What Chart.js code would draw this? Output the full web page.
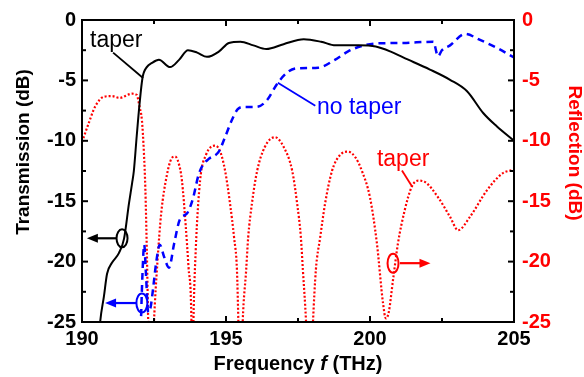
<!DOCTYPE html>
<html><head><meta charset="utf-8">
<script src="https://cdn.jsdelivr.net/npm/chart.js@4/dist/chart.umd.min.js"></script>
<style>html,body{margin:0;padding:0;background:#fff}canvas{display:block}</style>
</head><body>
<canvas id="c" width="584" height="377"></canvas>
<script>
const FONT = '"Liberation Sans", Arial, Helvetica, sans-serif';

// x axis (THz) and y axes (dB) tick labels
const xTickLabels = [190, 195, 200, 205];
const yTickLabels = [0, -5, -10, -15, -20, -25];

// Transmission with taper (black solid, left axis)
const taperTxFreq = [190.6,190.63,190.76,190.87,191.04,191.28,191.46,191.63,191.74,191.8,191.9,192.0,192.1,192.25,192.43,192.67,193.06,193.37,193.68,194.0,194.34,194.76,195.1,195.5,195.95,196.4,197.0,197.7,198.3,198.8,199.6,200.2,200.7,201.15,202.08,202.78,203.37,203.93,204.4,205.0];
const taperTxDb   = [-26,-25,-22.9,-21,-20.1,-19.3,-18.1,-15.2,-13.5,-12.5,-9.6,-6.9,-4.8,-3.9,-3.55,-3.3,-3.9,-3.3,-2.5,-2.7,-3.05,-2.6,-1.9,-1.8,-2.1,-2.4,-2.0,-1.6,-1.8,-2.1,-2.1,-2.2,-2.6,-3.1,-4.1,-4.95,-5.9,-7.7,-8.8,-10.0];

// Transmission without taper (blue dashed, left axis)
const noTaperTxFreq = [192.04,192.1,192.16,192.22,192.3,192.38,192.47,192.58,192.7,192.85,193.02,193.2,193.4,193.65,193.85,194.05,194.2,194.4,194.75,194.95,195.2,195.4,195.6,196.05,196.4,196.8,197.15,197.45,198.2,198.78,199.24,199.72,200.17,201.15,202.2,202.36,202.5,202.78,203.3,203.82,204.4,205.0];
const noTaperTxDb   = [-25.5,-21,-18.6,-21,-24.2,-23.8,-22.2,-20,-18.6,-19.6,-20.5,-18.5,-16.5,-16.0,-14.8,-12.8,-12.0,-11.5,-10.9,-9.8,-8.3,-7.4,-7.2,-7.2,-6.7,-5.2,-4.3,-4.0,-3.95,-3.3,-2.6,-2.15,-1.95,-1.9,-1.8,-3.0,-2.5,-2.1,-1.15,-1.65,-2.3,-3.1];

// Reflection with taper (red dotted, right axis)
const taperReflFreq = [190.0,190.24,190.45,190.76,191.04,191.3,191.74,191.9,192.0,192.08,192.15,192.2,192.25,192.3,192.4,192.5,192.62,192.75,192.95,193.1,193.23,193.35,193.47,193.6,193.7,193.8,193.83,193.87,193.95,194.1,194.3,194.62,194.8,194.97,195.14,195.28,195.38,195.43,195.5,195.58,195.7,195.77,195.9,196.08,196.35,196.7,197.0,197.3,197.47,197.6,197.67,197.78,197.9,198.02,198.12,198.27,198.44,198.68,198.95,199.24,199.5,199.72,200.0,200.24,200.45,200.55,200.65,200.8,200.97,201.2,201.45,201.67,201.9,202.37,202.78,203.06,203.47,204.06,204.6,205.0];
const taperReflDb   = [-10.1,-8.5,-7.2,-6.35,-6.3,-6.45,-6.1,-6.2,-7.2,-8.3,-11.0,-14,-19,-25,-32,-25,-20,-16,-12.8,-11.5,-11.3,-11.8,-13.3,-17,-20.5,-25,-32,-25,-19,-13.3,-11.2,-10.4,-10.9,-12.5,-15.2,-18,-20.7,-25,-32,-25,-20.7,-18,-15.2,-12.5,-10.5,-9.7,-10.5,-12.5,-15.2,-18,-20.7,-25,-32,-25,-20.7,-18,-15.2,-12.5,-11.2,-10.9,-11.4,-12.5,-14.7,-18.5,-23.4,-24.7,-24.2,-21.5,-18.5,-15.8,-13.8,-13.3,-13.4,-14.7,-16.3,-17.4,-16.3,-14.1,-12.7,-12.4];

const pts = (xs, ys) => xs.map((x, i) => ({x: x, y: ys[i]}));

const BLACK = '#000000', BLUE = '#0000ff', RED = '#ff0000';

function fixW(w){ return function(s){ s.width = w; }; }

const decor = {
  id: 'decor',
  afterDatasetsDraw(chart) {
    const {ctx, chartArea: a, scales} = chart;
    const X = v => scales.x.getPixelForValue(v);
    const Y = v => scales.y.getPixelForValue(v);
    const Y2 = v => scales.y2.getPixelForValue(v);
    ctx.save();
    function seg(x1,y1,x2,y2,col,w){ ctx.beginPath(); ctx.strokeStyle=col; ctx.lineWidth=w; ctx.moveTo(x1,y1); ctx.lineTo(x2,y2); ctx.stroke(); }
    // frame
    ctx.setLineDash([]);
    ctx.strokeStyle = BLACK; ctx.lineWidth = 2;
    ctx.strokeRect(a.left, a.top, a.right - a.left, a.bottom - a.top);
    // inward ticks
    scales.x.ticks.forEach(t => {
      const p = X(t.value); const L = (Math.abs(t.value % 5) < 1e-6) ? 6 : 4;
      seg(p, a.bottom, p, a.bottom - L, BLACK, 2);
      seg(p, a.top, p, a.top + L, BLACK, 2);
    });
    scales.y.ticks.forEach(t => {
      const p = Y(t.value); const L = (Math.abs(t.value % 5) < 1e-6) ? 6 : 4;
      seg(a.left, p, a.left + L, p, BLACK, 2);
    });
    scales.y2.ticks.forEach(t => {
      const p = Y2(t.value); const L = (Math.abs(t.value % 5) < 1e-6) ? 6 : 4;
      seg(a.right, p, a.right - L, p, BLACK, 2);
    });
    // annotations
    ctx.textBaseline = 'alphabetic'; ctx.textAlign = 'left';
    ctx.font = '23px ' + FONT;
    ctx.fillStyle = BLACK; ctx.fillText('taper', X(190.28), Y(-2.2));
    seg(X(191.08), Y(-2.7), X(192.12), Y(-4.8), BLACK, 1.8);
    ctx.fillStyle = BLUE; ctx.fillText('no taper', X(198.16), Y(-7.8));
    seg(X(196.8), Y(-5.2), X(198.1), Y(-7.1), BLUE, 1.8);
    ctx.fillStyle = RED; ctx.fillText('taper', X(200.24), Y2(-12.05));
    seg(X(201.11), Y2(-12.46), X(201.46), Y2(-13.78), RED, 1.8);

    function ellipse(cx, cy, rx, ry, col){ ctx.beginPath(); ctx.strokeStyle = col; ctx.lineWidth = 2; ctx.ellipse(cx, cy, rx, ry, 0, 0, Math.PI*2); ctx.stroke(); }
    function arrow(x1, x2, y, col){
      const dir = Math.sign(x2 - x1);
      seg(x1, y, x2 - dir*8, y, col, 2.2);
      ctx.beginPath(); ctx.fillStyle = col;
      ctx.moveTo(x2, y); ctx.lineTo(x2 - dir*11, y - 4.5); ctx.lineTo(x2 - dir*11, y + 4.5); ctx.closePath(); ctx.fill();
    }
    ellipse(X(191.39), Y(-18.07), 5.5, 9, BLACK);
    arrow(X(191.18), X(190.17), Y(-18.07), BLACK);
    ellipse(X(192.08), Y(-23.43), 5.5, 9.5, BLUE);
    arrow(X(191.88), X(190.8), Y(-23.43), BLUE);
    ellipse(X(200.8), Y2(-20.13), 5.5, 9.5, RED);
    arrow(X(201.04), X(202.1), Y2(-20.13), RED);
    ctx.restore();
  },
  afterDraw(chart) {
    const {ctx, chartArea: a} = chart;
    ctx.save();
    ctx.textBaseline = 'middle'; ctx.textAlign = 'center';
    ctx.font = 'bold 19px ' + FONT;
    // left title
    ctx.save(); ctx.translate(a.left - 58, a.top + 132); ctx.rotate(-Math.PI/2);
    ctx.fillStyle = BLACK; ctx.fillText('Transmission (dB)', 0, 0); ctx.restore();
    // right title
    ctx.save(); ctx.translate(a.right + 60.5, a.top + 133); ctx.rotate(Math.PI/2);
    ctx.fillStyle = RED; ctx.fillText('Reflection (dB)', 0, 0); ctx.restore();
    // x title with italic f
    const parts = [['Frequency ', 'bold 20px ' + FONT], ['f', 'italic bold 20px ' + FONT], [' (THz)', 'bold 20px ' + FONT]];
    let total = 0;
    parts.forEach(p => { ctx.font = p[1]; total += ctx.measureText(p[0]).width; });
    let x = (a.left + a.right) / 2 - total / 2;
    ctx.textAlign = 'left'; ctx.textBaseline = 'alphabetic'; ctx.fillStyle = BLACK;
    parts.forEach(p => { ctx.font = p[1]; ctx.fillText(p[0], x, a.bottom + 48); x += ctx.measureText(p[0]).width; });
    ctx.restore();
  }
};

const isMajor = v => Math.abs(v % 5) < 1e-6;

new Chart(document.getElementById('c'), {
  type: 'line',
  data: {
    datasets: [
      { label: 'taper T', data: pts(taperTxFreq, taperTxDb), yAxisID: 'y', borderColor: BLACK, borderWidth: 2, pointRadius: 0, fill: false, cubicInterpolationMode: 'monotone' },
      { label: 'no taper T', data: pts(noTaperTxFreq, noTaperTxDb), yAxisID: 'y', borderColor: BLUE, borderWidth: 2.5, borderDash: [7, 5], pointRadius: 0, fill: false, cubicInterpolationMode: 'monotone' },
      { label: 'taper R', data: pts(taperReflFreq, taperReflDb), yAxisID: 'y2', borderColor: RED, borderWidth: 2.2, borderDash: [2, 2], pointRadius: 0, fill: false, cubicInterpolationMode: 'monotone' }
    ]
  },
  options: {
    responsive: false, animation: false, devicePixelRatio: 1,
    layout: { padding: { top: 19, left: 0, right: 0, bottom: 0 } },
    plugins: { legend: { display: false }, tooltip: { enabled: false } },
    scales: {
      x: {
        type: 'linear', min: 190, max: 205, position: 'bottom',
        afterFit: s => { s.height = 55; },
        grid: { display: false, drawTicks: false },
        border: { display: false },
        ticks: { stepSize: 2.5, autoSkip: false, maxRotation: 0, padding: 5, color: BLACK,
          font: { family: FONT, size: 20, weight: 'bold' },
          callback: v => xTickLabels.includes(v) ? String(v) : '' }
      },
      y: {
        type: 'linear', min: -25, max: 0, position: 'left',
        afterFit: fixW(82),
        grid: { display: false, drawTicks: false },
        border: { display: false },
        ticks: { stepSize: 2.5, autoSkip: false, padding: 6, color: BLACK,
          font: { family: FONT, size: 20, weight: 'bold' },
          callback: v => yTickLabels.includes(v) ? String(v) : '' }
      },
      y2: {
        type: 'linear', min: -25, max: 0, position: 'right',
        afterFit: fixW(70),
        grid: { display: false, drawTicks: false },
        border: { display: false },
        ticks: { stepSize: 2.5, autoSkip: false, padding: 8, color: RED,
          font: { family: FONT, size: 20, weight: 'bold' },
          callback: v => yTickLabels.includes(v) ? String(v) : '' }
      }
    }
  },
  plugins: [decor]
});
</script>
</body></html>
